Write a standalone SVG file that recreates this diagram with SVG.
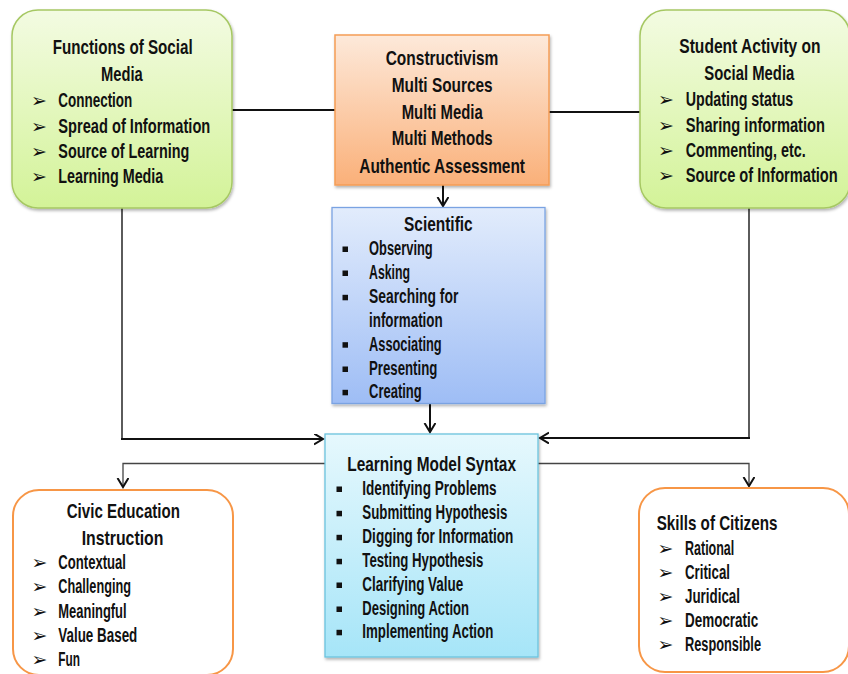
<svg xmlns="http://www.w3.org/2000/svg" width="848" height="674" viewBox="0 0 848 674">
<defs>
<style>
.t{font-family:"Liberation Sans",Arial,sans-serif;font-weight:bold;font-size:21px;fill:#111;}
.i{font-size:20px;}
.ar{font-family:"DejaVu Sans",sans-serif;font-size:19px;fill:#111;}
.sq{fill:#111;}
.c1{fill:none;stroke:#111;stroke-width:2;}
.c2{fill:none;stroke:#333;stroke-width:1.6;}
.c3{fill:none;stroke:#444;stroke-width:1.3;}
</style>
<linearGradient id="gG" x1="0" y1="0" x2="0" y2="1"><stop offset="0" stop-color="#f3fbe2"/><stop offset="1" stop-color="#d3f398"/></linearGradient>
<linearGradient id="gO" x1="0" y1="0" x2="0" y2="1"><stop offset="0" stop-color="#fde9da"/><stop offset="1" stop-color="#fab079"/></linearGradient>
<linearGradient id="gB" x1="0" y1="0" x2="0" y2="1"><stop offset="0" stop-color="#e2ecfc"/><stop offset="1" stop-color="#9ebdf5"/></linearGradient>
<linearGradient id="gC" x1="0" y1="0" x2="0" y2="1"><stop offset="0" stop-color="#e6f8fd"/><stop offset="1" stop-color="#a6e5f8"/></linearGradient>
<filter id="sh" x="-10%" y="-10%" width="120%" height="120%"><feDropShadow dx="1" dy="2" stdDeviation="1.5" flood-color="#000" flood-opacity="0.3"/></filter>
<marker id="ah" markerUnits="userSpaceOnUse" markerWidth="14" markerHeight="14" refX="9" refY="5.5" orient="auto"><path d="M0,0 L9,5.5 L0,11" fill="none" stroke="#111" stroke-width="2"/></marker>
</defs>

<g id="connectors">
<line class="c1" x1="232" y1="110" x2="335" y2="110"/>
<line class="c1" x1="549" y1="112" x2="640" y2="112"/>
<line class="c1" x1="443" y1="185" x2="443" y2="206" marker-end="url(#ah)"/>
<line class="c1" x1="430" y1="404" x2="430" y2="432" marker-end="url(#ah)"/>
<path class="c2" d="M122,208 V439"/>
<path class="c1" d="M121,439 H323" marker-end="url(#ah)"/>
<path class="c2" d="M749,208 V438"/>
<path class="c1" d="M750,438 H540" marker-end="url(#ah)"/>
<path class="c3" d="M325,463.5 H123 V487" marker-end="url(#ah)"/>
<path class="c3" d="M538,463.5 H749 V486" marker-end="url(#ah)"/>
</g>

<g id="functions">
<rect x="12" y="10" width="220" height="198" rx="26" fill="url(#gG)" stroke="#a6c863" stroke-width="1.5" filter="url(#sh)"/>
<text class="t" x="52.7" y="54" textLength="140" lengthAdjust="spacingAndGlyphs">Functions of Social</text>
<text class="t" x="101" y="81" textLength="41.7" lengthAdjust="spacingAndGlyphs">Media</text>
<text class="ar" x="31" y="107">➢</text>
<text class="ar" x="31" y="132.5">➢</text>
<text class="ar" x="31" y="157.5">➢</text>
<text class="ar" x="31" y="183">➢</text>
<text class="t i" x="58.3" y="107.3" textLength="74" lengthAdjust="spacingAndGlyphs">Connection</text>
<text class="t i" x="58.3" y="132.7" textLength="152" lengthAdjust="spacingAndGlyphs">Spread of Information</text>
<text class="t i" x="58.3" y="157.7" textLength="131" lengthAdjust="spacingAndGlyphs">Source of Learning</text>
<text class="t i" x="58.3" y="183.3" textLength="105" lengthAdjust="spacingAndGlyphs">Learning Media</text>
</g>

<g id="constructivism">
<rect x="335" y="35" width="214" height="150" fill="url(#gO)" stroke="#f59d56" stroke-width="1.5" filter="url(#sh)"/>
<text class="t" x="385.7" y="65" textLength="112.7" lengthAdjust="spacingAndGlyphs">Constructivism</text>
<text class="t" x="391.7" y="91.7" textLength="101" lengthAdjust="spacingAndGlyphs">Multi Sources</text>
<text class="t" x="401.7" y="119" textLength="81" lengthAdjust="spacingAndGlyphs">Multi Media</text>
<text class="t" x="391.7" y="145" textLength="101" lengthAdjust="spacingAndGlyphs">Multi Methods</text>
<text class="t" x="359.3" y="172.7" textLength="165.7" lengthAdjust="spacingAndGlyphs">Authentic Assessment</text>
</g>

<g id="student-activity">
<rect x="640" y="10" width="210" height="198" rx="26" fill="url(#gG)" stroke="#a6c863" stroke-width="1.5" filter="url(#sh)"/>
<text class="t" transform="translate(679.3,53.3) scale(0.75,1)" x="0" y="0" textLength="188.4" lengthAdjust="spacingAndGlyphs">Student Activity on</text>
<text class="t" x="704.3" y="80" textLength="90" lengthAdjust="spacingAndGlyphs">Social Media</text>
<text class="ar" x="658" y="105.7">➢</text>
<text class="ar" x="658" y="131.5">➢</text>
<text class="ar" x="658" y="156.5">➢</text>
<text class="ar" x="658" y="181.5">➢</text>
<text class="t i" x="685.7" y="106" textLength="107.6" lengthAdjust="spacingAndGlyphs">Updating status</text>
<text class="t i" transform="translate(685.7,131.7) scale(0.75,1)" x="0" y="0" textLength="185.7" lengthAdjust="spacingAndGlyphs">Sharing information</text>
<text class="t i" transform="translate(685.7,156.7) scale(0.75,1)" x="0" y="0" textLength="160" lengthAdjust="spacingAndGlyphs">Commenting, etc.</text>
<text class="t i" transform="translate(685.7,181.7) scale(0.75,1)" x="0" y="0" textLength="202.7" lengthAdjust="spacingAndGlyphs">Source of Information</text>
</g>

<g id="scientific">
<rect x="332" y="207.5" width="213" height="196" fill="url(#gB)" stroke="#7aa3e2" stroke-width="1.3" filter="url(#sh)"/>
<text class="t" x="404" y="230.7" textLength="68.7" lengthAdjust="spacingAndGlyphs">Scientific</text>
<rect class="sq" x="342.5" y="246.5" width="5.5" height="5.5"/>
<rect class="sq" x="342.5" y="270.5" width="5.5" height="5.5"/>
<rect class="sq" x="342.5" y="294.8" width="5.5" height="5.5"/>
<rect class="sq" x="342.5" y="342.2" width="5.5" height="5.5"/>
<rect class="sq" x="342.5" y="366.5" width="5.5" height="5.5"/>
<rect class="sq" x="342.5" y="389.8" width="5.5" height="5.5"/>
<text class="t i" x="369" y="255" textLength="63.7" lengthAdjust="spacingAndGlyphs">Observing</text>
<text class="t i" x="369" y="279" textLength="41" lengthAdjust="spacingAndGlyphs">Asking</text>
<text class="t i" x="369" y="303.3" textLength="89.3" lengthAdjust="spacingAndGlyphs">Searching for</text>
<text class="t i" x="369" y="326.7" textLength="73.7" lengthAdjust="spacingAndGlyphs">information</text>
<text class="t i" x="369" y="350.7" textLength="72.7" lengthAdjust="spacingAndGlyphs">Associating</text>
<text class="t i" x="369" y="375" textLength="68.3" lengthAdjust="spacingAndGlyphs">Presenting</text>
<text class="t i" x="369" y="398.3" textLength="52.7" lengthAdjust="spacingAndGlyphs">Creating</text>
</g>

<g id="learning-model-syntax">
<rect x="325" y="434" width="213" height="223" fill="url(#gC)" stroke="#6cc3dd" stroke-width="1.3" filter="url(#sh)"/>
<text class="t" x="347.3" y="470.7" textLength="168.7" lengthAdjust="spacingAndGlyphs">Learning Model Syntax</text>
<rect class="sq" x="336.5" y="486.5" width="5.5" height="5.5"/>
<rect class="sq" x="336.5" y="510.8" width="5.5" height="5.5"/>
<rect class="sq" x="336.5" y="534.8" width="5.5" height="5.5"/>
<rect class="sq" x="336.5" y="558.8" width="5.5" height="5.5"/>
<rect class="sq" x="336.5" y="582.5" width="5.5" height="5.5"/>
<rect class="sq" x="336.5" y="606.5" width="5.5" height="5.5"/>
<rect class="sq" x="336.5" y="629.8" width="5.5" height="5.5"/>
<text class="t i" x="362.3" y="495" textLength="134.3" lengthAdjust="spacingAndGlyphs">Identifying Problems</text>
<text class="t i" x="362.3" y="519.3" textLength="145" lengthAdjust="spacingAndGlyphs">Submitting Hypothesis</text>
<text class="t i" x="362.3" y="543.3" textLength="151" lengthAdjust="spacingAndGlyphs">Digging for Information</text>
<text class="t i" x="362.3" y="567.3" textLength="121" lengthAdjust="spacingAndGlyphs">Testing Hypothesis</text>
<text class="t i" x="362.3" y="591" textLength="101" lengthAdjust="spacingAndGlyphs">Clarifying Value</text>
<text class="t i" x="362.3" y="615" textLength="106.7" lengthAdjust="spacingAndGlyphs">Designing Action</text>
<text class="t i" x="362.3" y="638.3" textLength="131" lengthAdjust="spacingAndGlyphs">Implementing Action</text>
</g>

<g id="civic-education">
<rect x="13" y="490" width="220" height="185" rx="26" fill="#fff" stroke="#f79646" stroke-width="2"/>
<text class="t" x="66.7" y="518.3" textLength="113.3" lengthAdjust="spacingAndGlyphs">Civic Education</text>
<text class="t" x="81.7" y="545" textLength="81.7" lengthAdjust="spacingAndGlyphs">Instruction</text>
<text class="ar" x="31.5" y="569">➢</text>
<text class="ar" x="31.5" y="593">➢</text>
<text class="ar" x="31.5" y="617.5">➢</text>
<text class="ar" x="31.5" y="641.5">➢</text>
<text class="ar" x="31.5" y="665.5">➢</text>
<text class="t i" x="58.3" y="569.3" textLength="67.7" lengthAdjust="spacingAndGlyphs">Contextual</text>
<text class="t i" x="58.3" y="593.3" textLength="72.7" lengthAdjust="spacingAndGlyphs">Challenging</text>
<text class="t i" x="58.3" y="617.7" textLength="68.3" lengthAdjust="spacingAndGlyphs">Meaningful</text>
<text class="t i" x="58.3" y="641.7" textLength="79" lengthAdjust="spacingAndGlyphs">Value Based</text>
<text class="t i" x="58.3" y="666" textLength="21.7" lengthAdjust="spacingAndGlyphs">Fun</text>
</g>

<g id="skills-of-citizens">
<rect x="639" y="488" width="210" height="184" rx="26" fill="#fff" stroke="#f79646" stroke-width="2"/>
<text class="t" x="656.7" y="530" textLength="120.7" lengthAdjust="spacingAndGlyphs">Skills of Citizens</text>
<text class="ar" x="657.5" y="555">➢</text>
<text class="ar" x="657.5" y="579">➢</text>
<text class="ar" x="657.5" y="603">➢</text>
<text class="ar" x="657.5" y="627">➢</text>
<text class="ar" x="657.5" y="651">➢</text>
<text class="t i" x="685" y="555" textLength="49.3" lengthAdjust="spacingAndGlyphs">Rational</text>
<text class="t i" x="685" y="579.3" textLength="45" lengthAdjust="spacingAndGlyphs">Critical</text>
<text class="t i" x="685" y="603.3" textLength="55" lengthAdjust="spacingAndGlyphs">Juridical</text>
<text class="t i" x="685" y="627.3" textLength="73.3" lengthAdjust="spacingAndGlyphs">Democratic</text>
<text class="t i" x="685" y="651" textLength="76" lengthAdjust="spacingAndGlyphs">Responsible</text>
</g>
</svg>
